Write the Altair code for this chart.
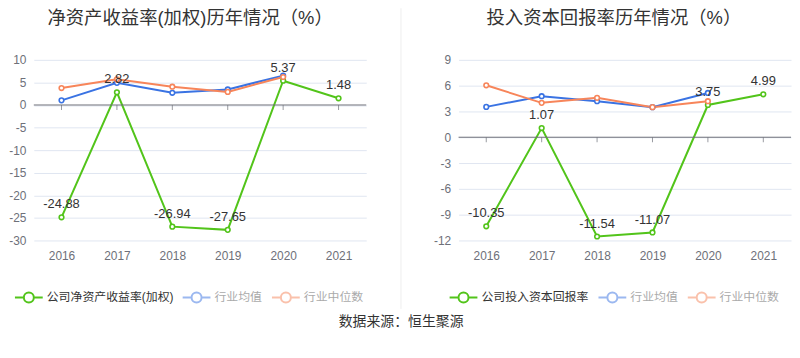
import altair as alt
import pandas as pd

years = ["2016", "2017", "2018", "2019", "2020", "2021"]

roe_company = [-24.88, 2.82, -26.94, -27.65, 5.37, 1.48]
roe_mean = [1.03, 4.9, 2.7, 3.45, 6.5, None]
roe_median = [3.75, 5.7, 4.05, 2.9, 6.2, None]

roic_company = [-10.35, 1.07, -11.54, -11.07, 3.75, 4.99]
roic_mean = [3.53, 4.77, 4.19, 3.5, 5.15, None]
roic_median = [6.04, 4.0, 4.58, 3.5, 4.19, None]

roe_ticks = [-30, -25, -20, -15, -10, -5, 0, 5, 10]
roic_ticks = [-12, -9, -6, -3, 0, 3, 6, 9]

MEAN = "行业均值"
MEDIAN = "行业中位数"
GREEN = "#52c41a"
BLUE = "#3a73e3"
ORANGE = "#f7855a"
FONT = "Liberation Sans, Noto Sans CJK SC, sans-serif"
AXIS_GREY = "#6E7079"

SYMBOL = ("M-1,0L-0.36,0M0.36,0L1,0M-0.36,0A0.36,0.36,0,1,1,0.36,0"
          "A0.36,0.36,0,1,1,-0.36,0")


def panel(title, dx, name, comp, mean, median, ymin, ymax, yvals, width,
          axis_extent, legend_x):
    rows = []
    for s, vals in ((name, comp), (MEAN, mean), (MEDIAN, median)):
        for y, v in zip(years, vals):
            if v is not None:
                rows.append({"year": y, "series": s, "value": v,
                             "label": f"{v:.2f}"})
    df = pd.DataFrame(rows)
    dcomp = df[df["series"] == name]

    xscale = alt.Scale(type="point", padding=0.5, domain=years)
    xaxis = alt.Axis(labelAngle=0, domain=False, ticks=False, grid=False,
                     labelPadding=10, labelColor=AXIS_GREY, labelFontSize=12,
                     labelFont=FONT, title=None)
    yscale = alt.Scale(domain=[ymin, ymax], nice=False, zero=False)
    yaxis = alt.Axis(values=yvals, grid=True, gridColor="#E0E6F1", domain=False,
                     ticks=False, labelPadding=8, labelColor=AXIS_GREY,
                     labelFontSize=12, labelFont=FONT, title=None,
                     labelOverlap=False, labelExpr="toString(datum.value)",
                     minExtent=axis_extent, maxExtent=axis_extent)

    def X():
        return alt.X("year:O", scale=xscale, axis=xaxis)

    def Y(field):
        return alt.Y(field, scale=yscale, axis=yaxis)

    legend = alt.Legend(
        title=None, orient="none", legendX=legend_x, legendY=224,
        direction="horizontal", symbolType=SYMBOL, symbolSize=784,
        symbolStrokeWidth=2, symbolFillColor="white",
        symbolOpacity={"expr": f"datum.label == '{name}' ? 1 : 0.5"},
        labelColor={"expr": f"datum.label == '{name}' ? '#333333' : '#aaaaaa'"},
        labelFontSize=12, labelFont=FONT, labelOffset=3, columnPadding=5,
    )
    color = alt.Color("series:N",
                      scale=alt.Scale(domain=[name, MEAN, MEDIAN],
                                      range=[GREEN, BLUE, ORANGE]),
                      sort=[name, MEAN, MEDIAN], legend=legend)

    base = alt.Chart(df)
    lines = base.mark_line(strokeWidth=2).encode(
        x=X(), y=Y("value:Q"), color=color, detail="series:N",
        order=alt.Order("year:O"))
    zero = alt.Chart(pd.DataFrame({"v": [0]})).mark_rule(
        color=AXIS_GREY, strokeWidth=1).encode(y=Y("v:Q"))
    ticks = alt.Chart(pd.DataFrame({"year": years, "v": [0] * len(years)})).mark_tick(
        orient="vertical", size=5, thickness=1, yOffset=2.5, color=AXIS_GREY
    ).encode(x=X(), y=Y("v:Q"))
    points = base.mark_point(shape="circle", filled=False, fill="white",
                             fillOpacity=1, size=22, strokeWidth=1.6, opacity=1).encode(
        x=X(), y=Y("value:Q"), color=color)
    labels = alt.Chart(dcomp).mark_text(
        baseline="bottom", dy=-6, fontSize=13, font=FONT, color="#333333"
    ).encode(x=X(), y=Y("value:Q"), text=alt.Text("label:N"))
    return alt.layer(lines, zero, ticks, points, labels).properties(
        width=width, height=182,
        title=alt.TitleParams(text=title, fontSize=18.5, font=FONT, fontWeight="normal",
                              color="#333333", anchor="middle", frame="group",
                              dx=dx, offset=27),
    )


left = panel("净资产收益率(加权)历年情况（%）", -10, "公司净资产收益率(加权)",
             roe_company, roe_mean, roe_median, -30, 10, roe_ticks, 335, 25, -20)
right = panel("投入资本回报率历年情况（%）", -11, "公司投入资本回报率",
              roic_company, roic_mean, roic_median, -12, 9, roic_ticks, 335, 30, -10)

sep = alt.Chart(pd.DataFrame({"v": [0]})).mark_rule(
    color="#eeeeee", strokeWidth=1).encode(
    x=alt.value(0), y=alt.value(-52), y2=alt.value(251)).properties(width=23, height=182)

chart = alt.hconcat(left, sep, right, spacing=35, bounds="flush").resolve_scale(
    color="independent", y="independent"
).properties(
    title=alt.TitleParams(text="数据来源：恒生聚源", orient="bottom", anchor="middle",
                          fontSize=14, font=FONT, fontWeight="normal", color="#333333",
                          offset=6, dx=1),
    padding={"left": 0, "top": -2, "right": 0, "bottom": 0},
).configure_view(stroke=None)

chart.save("out.html", embed_options={"renderer": "svg", "actions": False})
